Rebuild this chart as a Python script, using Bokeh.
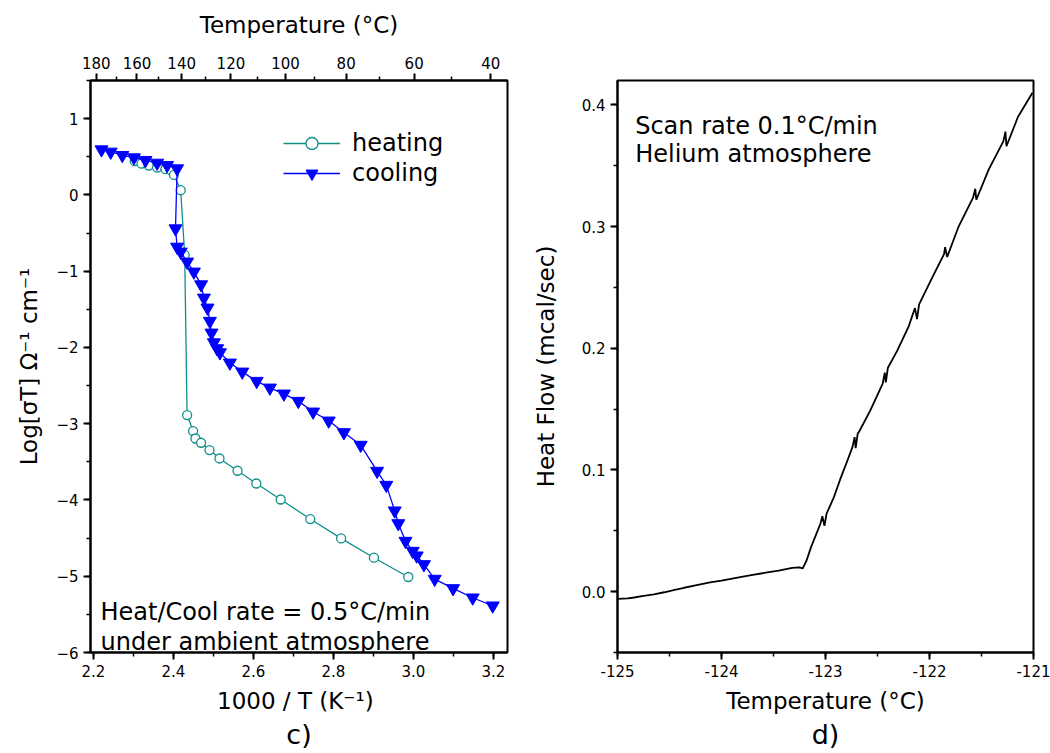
from bokeh.plotting import figure
from bokeh.models import (Range1d, LinearAxis, FixedTicker, SingleIntervalTicker,
                          CustomJSTickFormatter, NumeralTickFormatter, Label, Title)
from bokeh.layouts import row
from bokeh.embed import file_html
from bokeh.resources import INLINE

FONT = "DejaVu Sans"

# ---------------- panel c) data ----------------
heat_x = [2.303, 2.320, 2.338, 2.359, 2.380, 2.393, 2.401, 2.418, 2.428, 2.434,
          2.449, 2.455, 2.469, 2.490, 2.515, 2.560, 2.607, 2.668, 2.742, 2.819,
          2.901, 2.987]
heat_y = [0.442, 0.410, 0.384, 0.358, 0.337, 0.324, 0.262, 0.062, -0.790, -2.887,
          -3.097, -3.194, -3.250, -3.346, -3.456, -3.617, -3.784, -3.994, -4.250,
          -4.504, -4.757, -5.010]

cool_x = [2.220, 2.243, 2.272, 2.301, 2.330, 2.359, 2.384, 2.409, 2.405, 2.409,
          2.418, 2.434, 2.451, 2.469, 2.476, 2.485, 2.491, 2.495, 2.501, 2.509,
          2.516, 2.541, 2.572, 2.608, 2.641, 2.676, 2.712, 2.749, 2.788, 2.826,
          2.868, 2.909, 2.932, 2.953, 2.962, 2.980, 2.998, 3.008, 3.026, 3.053,
          3.099, 3.148, 3.198]
cool_y = [0.594, 0.564, 0.520, 0.489, 0.455, 0.419, 0.389, 0.345, -0.442, -0.682,
          -0.747, -0.878, -1.009, -1.176, -1.350, -1.481, -1.655, -1.809, -1.936,
          -2.014, -2.067, -2.202, -2.320, -2.442, -2.530, -2.608, -2.704, -2.844,
          -2.962, -3.115, -3.280, -3.621, -3.805, -4.141, -4.308, -4.539, -4.670,
          -4.731, -4.845, -5.037, -5.160, -5.282, -5.387]

top_temp_major = [180, 160, 140, 120, 100, 80, 60, 40]
top_temp_minor = [170, 150, 130, 110, 90, 70, 50]

# ---------------- panel d) data ----------------
dsc_temp = [-125.00, -124.90, -124.84, -124.75, -124.65, -124.55, -124.45, -124.36,
            -124.25, -124.11, -124.00, -123.82, -123.70, -123.56, -123.45, -123.32,
            -123.25, -123.22, -123.18, -123.14, -123.05, -123.03, -123.01, -122.99,
            -122.92, -122.86, -122.79, -122.74, -122.72, -122.71, -122.69, -122.68,
            -122.57, -122.45, -122.43, -122.42, -122.40, -122.31, -122.20, -122.14,
            -122.12, -122.10, -121.98, -121.86, -121.85, -121.83, -121.72, -121.58,
            -121.56, -121.55, -121.43, -121.29, -121.27, -121.26, -121.15, -121.01]
dsc_flow = [-0.0060, -0.0055, -0.0048, -0.0035, -0.0022, -0.0005, 0.0015, 0.0032,
            0.0052, 0.0076, 0.0090, 0.0120, 0.0138, 0.0158, 0.0172, 0.0195,
            0.0200, 0.0190, 0.0260, 0.0364, 0.0556, 0.0620, 0.0540, 0.0640,
            0.0775, 0.0920, 0.1076, 0.1190, 0.1270, 0.1180, 0.1300, 0.1310,
            0.1487, 0.1710, 0.1800, 0.1720, 0.1840, 0.1980, 0.2180, 0.2330,
            0.2240, 0.2360, 0.2570, 0.2774, 0.2830, 0.2750, 0.3000, 0.3240,
            0.3310, 0.3220, 0.3470, 0.3700, 0.3780, 0.3660, 0.3900, 0.4100]


def style_axis(ax, label_size="23px"):
    ax.axis_line_color = "black"
    ax.axis_line_width = 2
    ax.major_tick_line_color = "black"
    ax.major_tick_line_width = 2
    ax.minor_tick_line_color = "black"
    ax.minor_tick_line_width = 1.5
    ax.major_tick_in = 0
    ax.major_tick_out = 7
    ax.minor_tick_in = 0
    ax.minor_tick_out = 4
    ax.major_label_text_font = FONT
    ax.major_label_text_font_size = "15px"
    ax.major_label_text_color = "black"
    ax.axis_label_text_font = FONT
    ax.axis_label_text_font_size = label_size
    ax.axis_label_text_font_style = "normal"
    ax.axis_label_text_color = "black"


# ================= panel c =================
p1 = figure(width=525, height=753, output_backend="svg", toolbar_location=None,
            x_range=Range1d(2.1925, 3.235), y_range=Range1d(-6, 1.5),
            min_border_left=90, min_border_right=18, min_border_top=77,
            min_border_bottom=101)
p1.xgrid.visible = False
p1.ygrid.visible = False
p1.outline_line_color = "black"
p1.outline_line_width = 2
p1.background_fill_color = "white"

p1.xaxis.ticker = SingleIntervalTicker(interval=0.2, num_minor_ticks=2)
p1.xaxis.formatter = NumeralTickFormatter(format="0.0")
p1.xaxis.axis_label = "1000 / T  (K⁻¹)"
p1.xaxis.axis_label_standoff = 8
p1.yaxis.ticker = SingleIntervalTicker(interval=1, num_minor_ticks=2)
p1.yaxis.axis_label = "Log[σT] Ω⁻¹ cm⁻¹"
p1.yaxis.axis_label_standoff = 11
style_axis(p1.xaxis[0])
style_axis(p1.yaxis[0])

top_major = [1000.0 / (t + 273.15) for t in top_temp_major]
top_minor = [1000.0 / (t + 273.15) for t in top_temp_minor]
top_axis = LinearAxis(ticker=FixedTicker(ticks=top_major, minor_ticks=top_minor),
                      formatter=CustomJSTickFormatter(code="return (1000/tick - 273.15).toFixed(0);"),
                      axis_label="Temperature (°C)")
style_axis(top_axis)
top_axis.axis_label_standoff = 16
p1.add_layout(top_axis, "above")

teal = "#0f8f8a"
blue = "#0000ff"
p1.line(heat_x, heat_y, line_color=teal, line_width=1.3, legend_label="heating")
p1.scatter(heat_x, heat_y, marker="circle", size=9, fill_color="white",
           line_color=teal, line_width=1.3, legend_label="heating")
p1.line(cool_x, cool_y, line_color=blue, line_width=1.3, legend_label="cooling")
p1.scatter(cool_x, cool_y, marker="inverted_triangle", size=13, fill_color=blue,
           line_color=blue, legend_label="cooling")

lg = p1.legend[0]
lg.location = (193, 464)
lg.border_line_color = None
lg.background_fill_alpha = 0
lg.padding = 0
lg.margin = 0
lg.spacing = 0
lg.glyph_width = 57
lg.glyph_height = 30
lg.label_height = 30
lg.label_standoff = 12
lg.label_text_font = FONT
lg.label_text_font_size = "24px"
lg.label_text_color = "black"

for txt, yv in [("Heat/Cool rate = 0.5°C/min", -5.47), ("under ambient atmosphere", -5.86)]:
    p1.add_layout(Label(x=2.2175, y=yv, text=txt, text_font=FONT, text_font_size="24px",
                        text_color="black", text_baseline="alphabetic"))

t1 = Title(text="c)", align="center", text_font=FONT, text_font_size="27px",
           text_font_style="normal", text_color="black", standoff=1)
p1.add_layout(t1, "below")

# ================= panel d =================
p2 = figure(width=525, height=753, output_backend="svg", toolbar_location=None,
            x_range=Range1d(-125, -121), y_range=Range1d(-0.05, 0.42),
            min_border_left=92, min_border_right=17, min_border_top=80,
            min_border_bottom=101)
p2.xgrid.visible = False
p2.ygrid.visible = False
p2.outline_line_color = "black"
p2.outline_line_width = 2

p2.xaxis.ticker = SingleIntervalTicker(interval=1, num_minor_ticks=2)
p2.xaxis.formatter = NumeralTickFormatter(format="0")
p2.xaxis.axis_label = "Temperature (°C)"
p2.xaxis.axis_label_standoff = 8
p2.yaxis.ticker = SingleIntervalTicker(interval=0.1, num_minor_ticks=2)
p2.yaxis.formatter = NumeralTickFormatter(format="0.0")
p2.yaxis.axis_label = "Heat Flow (mcal/sec)"
p2.yaxis.axis_label_standoff = 20
style_axis(p2.xaxis[0])
style_axis(p2.yaxis[0])

p2.line(dsc_temp, dsc_flow, line_color="black", line_width=1.8)

for txt, yv in [("Scan rate 0.1°C/min", 0.383), ("Helium atmosphere", 0.360)]:
    p2.add_layout(Label(x=-124.83, y=yv, text=txt, text_font=FONT, text_font_size="24px",
                        text_color="black", text_baseline="alphabetic"))

t2 = Title(text="d)", align="center", text_font=FONT, text_font_size="27px",
           text_font_style="normal", text_color="black", standoff=1)
p2.add_layout(t2, "below")

layout = row(p1, p2)
open("out.html", "w").write(file_html(layout, INLINE))
